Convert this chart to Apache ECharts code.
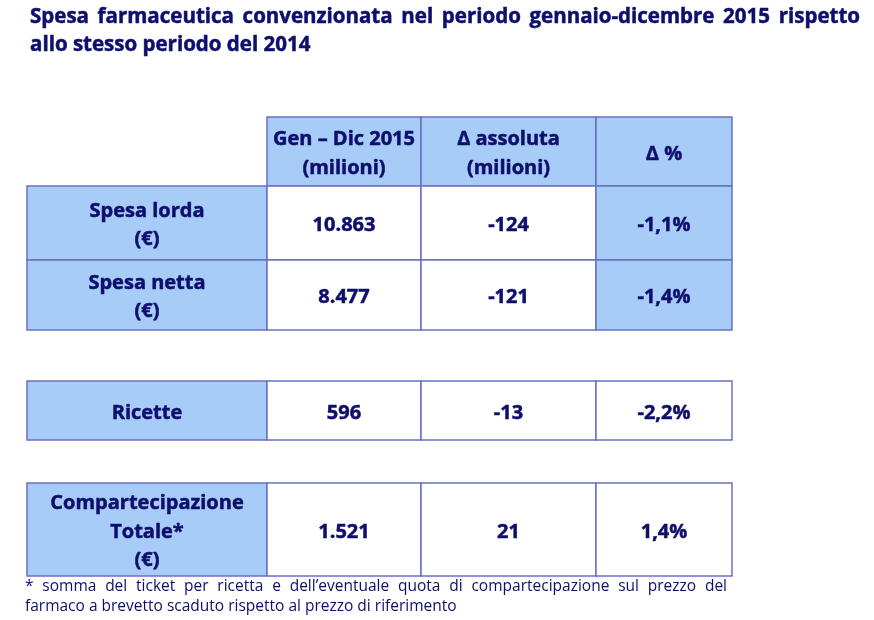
<!DOCTYPE html>
<html>
<head>
<meta charset="utf-8">
<script src="https://cdn.jsdelivr.net/npm/echarts@6/dist/echarts.min.js"></script>
<style>
  html, body { margin: 0; padding: 0; background: #fff; }
  #main { width: 874px; height: 620px; }
</style>
</head>
<body>
<div id="main"></div>
<script>
// dati della tabella
const intestazioni = ['Gen – Dic 2015\n(milioni)', 'Δ assoluta\n(milioni)', 'Δ %'];
const voci = ['Spesa lorda\n(€)', 'Spesa netta\n(€)', 'Ricette', 'Compartecipazione\nTotale*\n(€)'];
const spesa2015 = [10863, 8477, 596, 1521];
const deltaAssoluta = [-124, -121, -13, 21];
const deltaPerc = [-1.1, -1.4, -2.2, 1.4];

const titolo = [
  'Spesa farmaceutica convenzionata nel periodo gennaio-dicembre 2015 rispetto',
  'allo stesso periodo del 2014'
];
const nota = [
  '* somma del ticket per ricetta e dell\u2019eventuale quota di compartecipazione sul prezzo del',
  'farmaco a brevetto scaduto rispetto al prezzo di riferimento'
];

// layout
const colX = [27, 267, 421, 596, 732];
const righe = [[186, 260], [260, 330], [381, 440], [483, 576]];
const header = [117, 186];
const blu = '#a7ccf8';
const bordo = '#6b70c0';
const testo = '#0e0e6c';
const fontCella = 'bold 20px "Open Sans"';
const fontTitolo = 'bold 20.5px "Open Sans"';
const fontNota = '15.5px "Open Sans"';

function migliaia(n) {
  const s = String(Math.abs(n)).replace(/\B(?=(\d{3})+(?!\d))/g, '.');
  return (n < 0 ? '-' : '') + s;
}
function perc(n) {
  return (n < 0 ? '-' : '') + Math.abs(n).toFixed(1).replace('.', ',') + '%';
}

function stile(text, font, extra) {
  return Object.assign({
    text: text, font: font, fill: testo,
    textVerticalAlign: 'middle', verticalAlign: 'middle'
  }, extra || {});
}

const ctx = document.createElement('canvas').getContext('2d');
function riga(text, x, y, width, font, justify, extra) {
  if (!justify) {
    return [{ type: 'text', x: x, y: y, style: stile(text, font, extra) }];
  }
  ctx.font = font;
  const parole = text.split(' ');
  const tot = parole.reduce((s, w) => s + ctx.measureText(w).width, 0);
  const gap = Math.max(4, (width - tot) / (parole.length - 1));
  let cx = x;
  return parole.map(w => {
    const el = { type: 'text', x: cx, y: y, style: stile(w, font, extra) };
    cx += ctx.measureText(w).width + gap;
    return el;
  });
}

const spesso = { stroke: testo, lineWidth: 0.5 };

function cella(x0, x1, y0, y1, fill, label) {
  const els = [{
    type: 'rect',
    shape: { x: x0, y: y0, width: x1 - x0, height: y1 - y0 },
    style: { fill: fill, stroke: bordo, lineWidth: 1.5 }
  }];
  if (label) {
    els.push({
      type: 'text',
      x: (x0 + x1) / 2, y: (y0 + y1) / 2 + 2.5,
      style: stile(label, fontCella, Object.assign({
        lineHeight: 28.5, textAlign: 'center', align: 'center'
      }, spesso))
    });
  }
  return els;
}

let elementi = [];
// titolo
elementi = elementi.concat(riga(titolo[0], 30, 17, 830, fontTitolo, true, spesso));
elementi = elementi.concat(riga(titolo[1], 30, 45, 0, fontTitolo, false, spesso));

// intestazioni
intestazioni.forEach((h, j) => {
  elementi = elementi.concat(cella(colX[j + 1], colX[j + 2], header[0], header[1], blu, h));
});

// righe
voci.forEach((v, i) => {
  const [y0, y1] = righe[i];
  const valori = [v, migliaia(spesa2015[i]), migliaia(deltaAssoluta[i]), perc(deltaPerc[i])];
  valori.forEach((t, j) => {
    const isBlu = j === 0 || (j === 3 && i < 2);
    elementi = elementi.concat(cella(colX[j], colX[j + 1], y0, y1, isBlu ? blu : '#ffffff', t));
  });
});

// nota
elementi = elementi.concat(riga(nota[0], 25, 587, 702, fontNota, true));
elementi = elementi.concat(riga(nota[1], 25, 607, 0, fontNota, false));

const myChart = echarts.init(document.getElementById('main'));
const option = {
  backgroundColor: '#ffffff',
  animation: false,
  graphic: { elements: elementi }
};
myChart.setOption(option);
</script>
</body>
</html>
